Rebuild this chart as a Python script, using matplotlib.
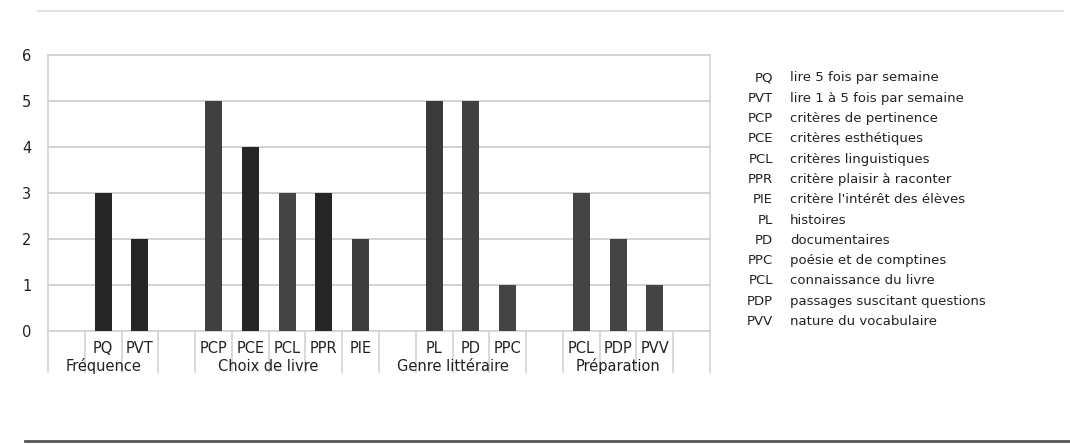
import matplotlib
matplotlib.use("Agg")
import matplotlib.pyplot as plt

# slots of the x axis, empty strings are the gaps between groups
codes = ["", "PQ", "PVT", "", "PCP", "PCE", "PCL", "PPR", "PIE",
         "", "PL", "PD", "PPC", "", "PCL", "PDP", "PVV", ""]
values = [0, 3, 2, 0, 5, 4, 3, 3, 2, 0, 5, 5, 1, 0, 3, 2, 1, 0]
groups = ["Fréquence", "Choix de livre", "Genre littéraire", "Préparation"]
group_slots = [(0, 2), (3, 8), (9, 12), (13, 17)]

legend_codes = ["PQ", "PVT", "PCP", "PCE", "PCL", "PPR", "PIE",
                "PL", "PD", "PPC", "PCL", "PDP", "PVV"]
legend_text = ["lire 5 fois par semaine", "lire 1 à 5 fois par semaine",
               "critères de pertinence", "critères esthétiques",
               "critères linguistiques", "critère plaisir à raconter",
               "critère l'intérêt des élèves", "histoires", "documentaires",
               "poésie et de comptines", "connaissance du livre",
               "passages suscitant questions", "nature du vocabulaire"]

bar_colors = ["#333333", "#262626", "#262626", "#333333", "#404040", "#262626",
              "#444444", "#262626", "#3c3c3c", "#333333", "#3a3a3a", "#404040",
              "#444444", "#333333", "#444444", "#444444", "#444444", "#333333"]

fig = plt.figure(figsize=(10.7, 4.45), dpi=100)

# border lines of the chart box
fig.add_artist(plt.Line2D([38 / 1070, 1063 / 1070], [1 - 11 / 445, 1 - 11 / 445],
                          transform=fig.transFigure, color="#e2e2e2", lw=1.5))
fig.add_artist(plt.Line2D([25 / 1070, 1.0], [1 - 441 / 445, 1 - 441 / 445],
                          transform=fig.transFigure, color="#555555", lw=2))

ax = fig.add_axes([48 / 1070, (445 - 331) / 445, 662 / 1070, 276 / 445])
x = list(range(len(codes)))
ax.bar(x, values, width=0.46, color=bar_colors, zorder=3)

ax.set_xlim(-0.5, len(codes) - 0.5)
ax.set_ylim(0, 6)
ax.set_yticks(range(7))
ax.yaxis.grid(True, color="#d2d2d2", lw=1.4, zorder=0)
for s in ax.spines.values():
    s.set_color("#d2d2d2")
    s.set_linewidth(1.2)
ax.tick_params(axis="y", length=0, pad=12, labelsize=10.5, colors="#222222")
ax.set_xticks(x)
ax.set_xticklabels(codes, fontsize=10.5, color="#222222")
ax.tick_params(axis="x", length=0, pad=7)

# separators between categories, running down through the labels
for i in range(len(codes) + 1):
    ax.plot([i - 0.5, i - 0.5], [0, -0.149], transform=ax.get_xaxis_transform(),
            color="#d2d2d2", lw=1.2, clip_on=False)

for name, (a, b) in zip(groups, group_slots):
    ax.text((a + b) / 2, -0.127, name, transform=ax.get_xaxis_transform(),
            ha="center", va="center", fontsize=10.5, color="#222222")

# abbreviation list on the right
for i, (c, t) in enumerate(zip(legend_codes, legend_text)):
    y = 1 - (78 + i * 20.3) / 445
    fig.text(773 / 1070, y, c, ha="right", va="center", fontsize=9.5, color="#222222")
    fig.text(790 / 1070, y, t, ha="left", va="center", fontsize=9.5, color="#222222")

fig.savefig("out.png", dpi=100)
